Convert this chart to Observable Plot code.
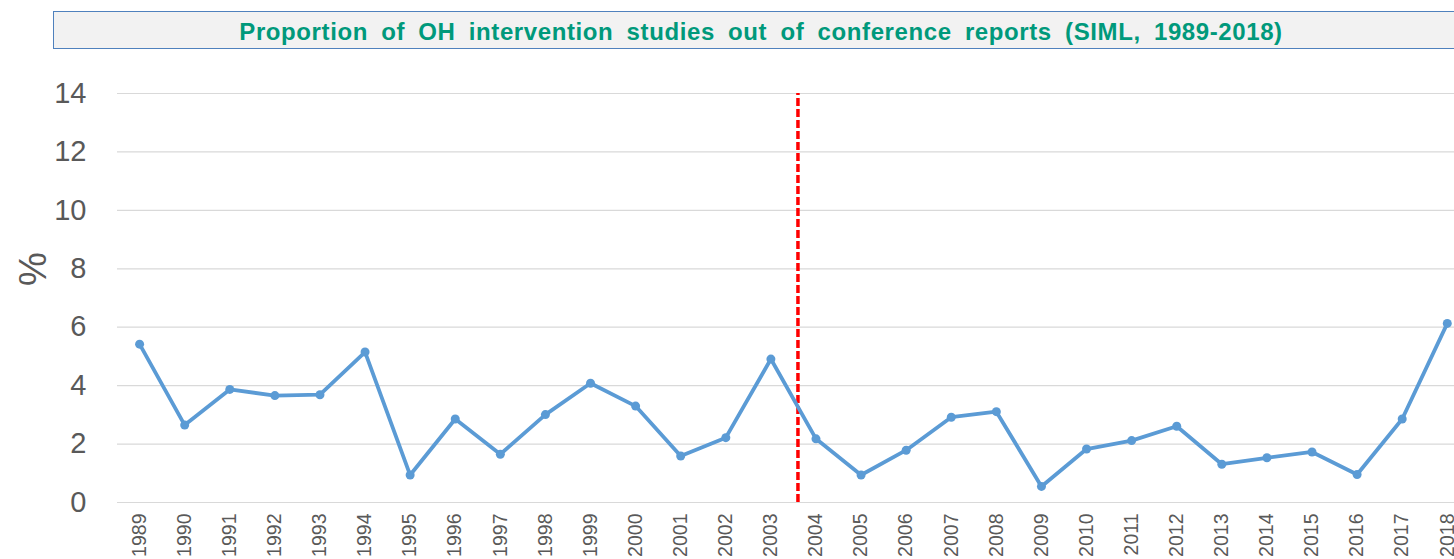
<!DOCTYPE html>
<html>
<head>
<meta charset="utf-8">
<script src="https://cdn.jsdelivr.net/npm/d3@7"></script>
<script src="https://cdn.jsdelivr.net/npm/@observablehq/plot@0.6"></script>
<style>
  html, body { margin: 0; padding: 0; background: #fff; overflow: hidden; }
  #wrap { position: relative; width: 1454px; height: 559px; overflow: hidden; font-family: "Liberation Sans", Arial, sans-serif; }
  #title {
    position: absolute; left: 53px; top: 11px; width: 1414px; height: 36px;
    border: 1.5px solid #4f81bd; background: #f2f2f2;
    color: #00997b; font-weight: bold; font-size: 24px; word-spacing: 6px; letter-spacing: 0.6px;
    text-align: center; line-height: 40px; box-sizing: content-box; white-space: nowrap;
  }
  #chart { position: absolute; left: 0; top: 0; }
</style>
</head>
<body>
<div id="wrap">
  <div id="chart"></div>
  <div id="title">Proportion of OH intervention studies out of conference reports (SIML, 1989-2018)</div>
</div>
<script>
const years = [1989,1990,1991,1992,1993,1994,1995,1996,1997,1998,1999,2000,2001,2002,2003,2004,2005,2006,2007,2008,2009,2010,2011,2012,2013,2014,2015,2016,2017,2018];
const percents = [5.42,2.65,3.87,3.66,3.69,5.15,0.94,2.86,1.65,3.01,4.08,3.30,1.59,2.22,4.91,2.18,0.94,1.79,2.92,3.11,0.55,1.83,2.12,2.61,1.31,1.53,1.73,0.96,2.86,6.13];
const yTicks = [0,2,4,6,8,10,12,14];
const dividerYear = [2003.6];
const yLabel = ["%"];

const data = years.map((year, i) => ({year, value: percents[i]}));

const chart = Plot.plot({
  width: 1454,
  height: 559,
  marginLeft: 117,
  marginRight: 0,
  marginTop: 93,
  marginBottom: 57,
  style: {fontFamily: "'Liberation Sans', Arial, sans-serif", background: "transparent", overflow: "visible"},
  x: {type: "linear", domain: [1988.51, 2018.16]},
  y: {domain: [0, 14]},
  marks: [
    Plot.gridY(yTicks, {stroke: "#d9d9d9", strokeOpacity: 1, strokeWidth: 1.2}),
    Plot.axisY(yTicks, {tickSize: 0, tickPadding: 31, fontSize: 29, fill: "#595959", label: null}),
    Plot.axisX(years, {tickSize: 0, tickRotate: -90, tickPadding: 11, fontSize: 19.5, fill: "#595959", label: null, tickFormat: d => String(d)}),
    Plot.text(yLabel, {text: d => d, frameAnchor: "left", dx: -84, dy: -12, rotate: -90, fontSize: 38, fill: "#595959"}),
    Plot.ruleX(dividerYear, {y1: 0, y2: 14, stroke: "#ff0000", strokeWidth: 3.5, strokeDasharray: "8,3"}),
    Plot.line(data, {x: "year", y: "value", stroke: "#5b9bd5", strokeWidth: 3.8}),
    Plot.dot(data, {x: "year", y: "value", r: 4.5, fill: "#5b9bd5"})
  ]
});
document.getElementById("chart").appendChild(chart);
</script>
</body>
</html>
